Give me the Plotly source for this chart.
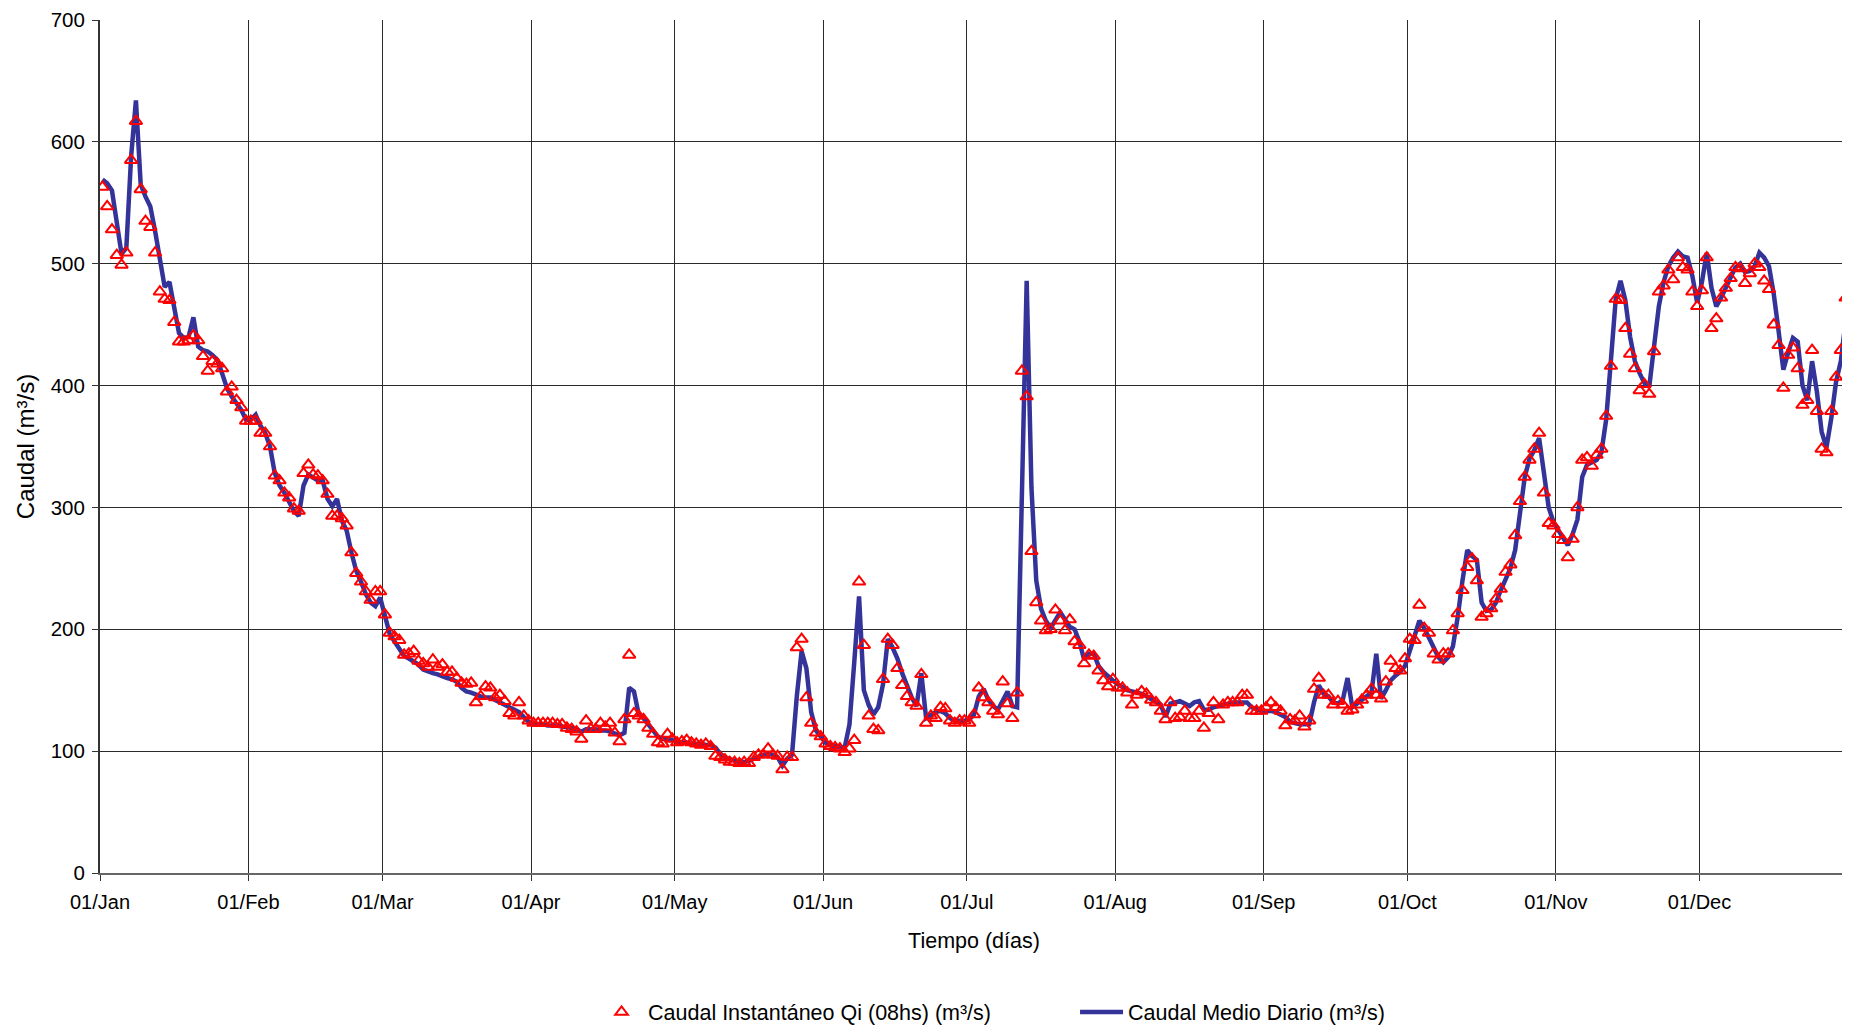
import pandas as pd
import plotly.graph_objects as go

# Daily instantaneous discharge at 08hs (m3/s), 365 days
qi = [
    563, 547, 528, 507, 499, 509, 585, 617, 561, 535,
    530, 509, 477, 471, 470, 452, 436, 436, 437, 441,
    437, 424, 412, 420, 418, 414, 395, 399, 388, 382,
    371, 371, 371, 361, 361, 350, 326, 322, 312, 308,
    299, 297, 328, 335, 327, 326, 322, 311, 293, 293,
    291, 285, 263, 246, 239, 231, 224, 231, 231, 212,
    197, 194, 191, 179, 180, 182, 174, 172, 169, 175,
    169, 171, 165, 165, 160, 156, 155, 156, 140, 145,
    153, 152, 144, 146, 141, 131, 129, 140, 129, 125,
    123, 123, 123, 123, 123, 122, 122, 119, 118, 116,
    110, 125, 118, 118, 123, 120, 123, 115, 108, 126,
    179, 131, 129, 126, 119, 114, 107, 106, 114, 110,
    107, 108, 109, 107, 106, 105, 106, 104, 96, 95,
    93, 91, 91, 90, 91, 90, 95, 97, 97, 102,
    97, 96, 85, 95, 95, 185, 192, 144, 123, 115,
    112, 106, 104, 103, 102, 99, 102, 109, 239, 187,
    129, 118, 117, 159, 192, 187, 168, 154, 145, 140,
    137, 163, 123, 129, 127, 136, 135, 125, 123, 125,
    125, 123, 130, 152, 144, 140, 133, 130, 157, 139,
    127, 148, 412, 391, 264, 222, 207, 199, 200, 216,
    207, 199, 208, 190, 187, 172, 179, 178, 166, 158,
    153, 159, 152, 152, 148, 138, 146, 149, 147, 142,
    140, 133, 126, 140, 127, 128, 133, 127, 127, 133,
    119, 131, 140, 126, 138, 140, 140, 140, 146, 146,
    133, 133, 133, 136, 140, 136, 133, 121, 126, 125,
    129, 120, 125, 151, 160, 146, 146, 138, 141, 138,
    133, 134, 138, 142, 146, 151, 146, 143, 157, 174,
    168, 166, 176, 192, 191, 220, 201, 197, 180, 175,
    180, 180, 199, 213, 232, 251, 258, 240, 210, 213,
    217, 225, 233, 247, 253, 277, 305, 325, 339, 348,
    361, 312, 287, 285, 278, 273, 259, 274, 300, 339,
    341, 334, 343, 348, 375, 416, 471, 470, 447, 426,
    414, 396, 401, 393, 428, 477, 482, 495, 487, 505,
    497, 495, 477, 465, 478, 505, 447, 455, 472, 480,
    488, 497, 496, 484, 492, 500, 497, 486, 479, 450,
    433, 398, 425, 431, 414, 384, 388, 429, 379, 348,
    345, 379, 407, 429, 472,
]

# Daily mean discharge (m3/s), 365 days
qm = [
    569, 566, 560, 535, 508, 513, 588, 634, 565, 555,
    547, 527, 505, 481, 485, 463, 443, 439, 440, 456,
    432, 429, 428, 425, 421, 410, 398, 391, 386, 380,
    372, 372, 376, 367, 361, 350, 328, 318, 312, 305,
    297, 293, 318, 327, 324, 322, 322, 307, 301, 307,
    289, 281, 263, 248, 239, 229, 222, 219, 226, 209,
    196, 190, 184, 178, 176, 174, 171, 167, 165, 164,
    163, 161, 160, 159, 157, 152, 149, 148, 146, 145,
    144, 144, 142, 140, 138, 136, 134, 132, 128, 124,
    122, 122, 122, 121, 121, 121, 120, 120, 119, 118,
    116, 118, 118, 118, 117, 117, 116, 114, 113, 115,
    152, 149, 130, 127, 122, 116, 112, 110, 110, 109,
    108, 107, 107, 106, 106, 106, 105, 105, 103, 98,
    95, 93, 92, 91, 91, 92, 94, 96, 97, 98,
    97, 95, 88, 94, 97, 145, 182, 168, 132, 117,
    112, 107, 105, 104, 103, 103, 122, 173, 227, 150,
    138, 130, 136, 155, 192, 185, 176, 164, 153, 144,
    137, 164, 127, 130, 132, 133, 131, 127, 125, 125,
    125, 126, 130, 145, 151, 142, 137, 134, 141, 149,
    137, 136, 310, 486, 316, 240, 217, 207, 201, 208,
    214, 208, 202, 200, 190, 175, 180, 180, 170, 165,
    161, 158, 155, 152, 150, 149, 148, 147, 145, 143,
    141, 138, 128, 139, 140, 141, 139, 137, 140, 141,
    134, 134, 136, 137, 138, 139, 140, 140, 140, 140,
    136, 134, 133, 133, 133, 132, 130, 128, 124, 123,
    122, 122, 122, 140, 154, 147, 145, 140, 139, 142,
    160, 136, 139, 142, 144, 148, 180, 143, 150, 158,
    162, 165, 170, 183, 195, 207, 201, 193, 183, 177,
    173, 177, 186, 210, 240, 265, 260, 257, 222, 215,
    216, 222, 232, 240, 250, 265, 296, 325, 340, 347,
    357, 328, 300, 288, 281, 275, 269, 278, 290, 325,
    335, 337, 339, 345, 372, 421, 471, 486, 470, 440,
    420, 410, 402, 399, 430, 465, 485, 498, 505, 510,
    506, 505, 490, 468, 485, 509, 480, 465, 472, 480,
    490, 497, 500, 493, 494, 498, 509, 505, 498, 475,
    445, 413, 427, 439, 436, 400, 388, 420, 395, 362,
    349, 373, 403, 420, 453,
]

month_labels = ["01/Jan", "01/Feb", "01/Mar", "01/Apr", "01/May", "01/Jun",
                "01/Jul", "01/Aug", "01/Sep", "01/Oct", "01/Nov", "01/Dec", ""]

days = pd.date_range("2001-01-01 12:00", periods=len(qm), freq="D")
month_starts = pd.date_range("2001-01-01", periods=13, freq="MS")

FONT = "Liberation Sans, Arial, sans-serif"

fig = go.Figure()
fig.add_trace(go.Scatter(
    x=days, y=qm, mode="lines", name="Caudal Medio Diario (m³/s)",
    line=dict(color="#333399", width=4.5), legendrank=2,
))
fig.add_trace(go.Scatter(
    x=days, y=qi, mode="markers", name="Caudal Instantáneo Qi (08hs) (m³/s)",
    marker=dict(symbol="triangle-up-open", size=11, color="#FF0000",
                line=dict(width=2, color="#FF0000")),
    legendrank=1,
))

fig.update_layout(
    width=1842, height=1017,
    margin=dict(l=92, r=2, t=12, b=152),
    paper_bgcolor="white", plot_bgcolor="white",
    font=dict(family=FONT, size=20, color="black"),
    showlegend=True,
    legend=dict(orientation="h", xref="container", yref="container",
                x=0.3187, y=0.0128, xanchor="left", yanchor="middle",
                font=dict(size=21.5), itemwidth=43,
                entrywidth=422, entrywidthmode="pixels",
                bgcolor="rgba(0,0,0,0)"),
)
fig.update_xaxes(
    type="date", range=[month_starts[0], month_starts[-1]],
    tickmode="array", tickvals=month_starts, ticktext=month_labels,
    ticks="outside", ticklen=6, tickcolor="#333333", ticklabelstandoff=4,
    showgrid=True, gridcolor="#2a2a2a", gridwidth=1,
    showline=True, linecolor="#666666", linewidth=2,
    title=dict(text="Tiempo (días)", standoff=21, font=dict(size=21.5)),
    zeroline=False, automargin=False,
)
fig.update_yaxes(
    range=[0, 700], dtick=100, tick0=0,
    ticks="outside", ticklen=6, tickcolor="#333333", ticklabelstandoff=3,
    ticklabeloverflow="allow",
    tickfont=dict(size=20.5),
    showgrid=True, gridcolor="#2a2a2a", gridwidth=1,
    showline=True, linecolor="#333333", linewidth=2,
    title=dict(text="Caudal (m³/s)", standoff=9),
    zeroline=False, automargin=False,
)

fig.write_html("out.html")
